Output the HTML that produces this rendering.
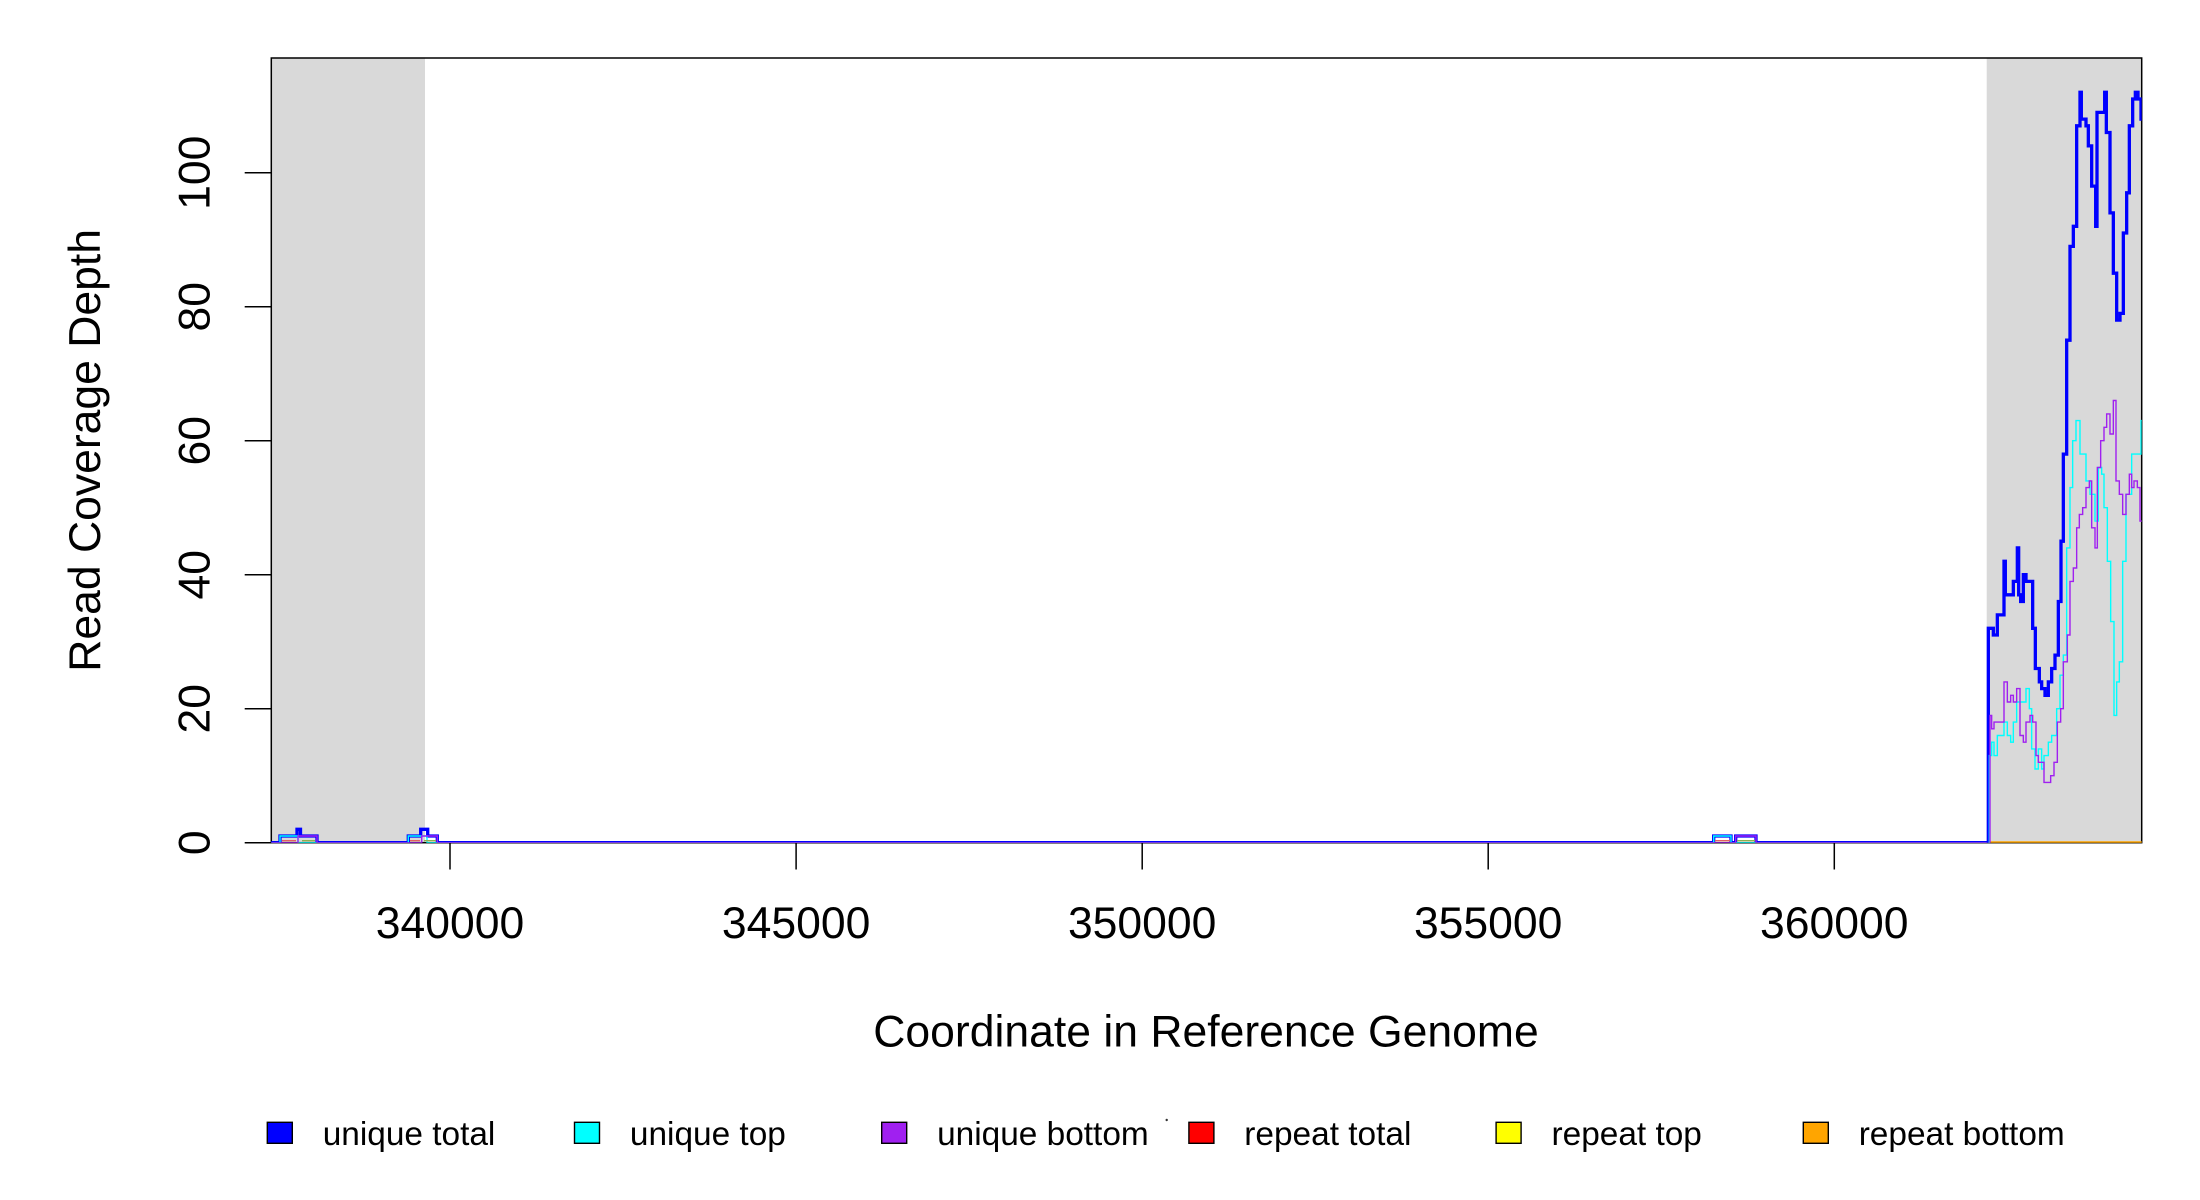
<!DOCTYPE html>
<html>
<head>
<meta charset="utf-8">
<style>
  html, body { margin: 0; padding: 0; background: #ffffff; }
  svg { display: block; }
  text { font-family: "Liberation Sans", Arial, sans-serif; fill: #000; }
</style>
</head>
<body>
<svg width="2200" height="1200" viewBox="0 0 2200 1200" xmlns="http://www.w3.org/2000/svg">
  <defs>
    <clipPath id="plotclip">
      <rect x="271.3" y="58" width="1870.4" height="784.7"/>
    </clipPath>
  </defs>
  <rect x="0" y="0" width="2200" height="1200" fill="#ffffff"/>

  <!-- shaded regions -->
  <rect x="271.3" y="58" width="153.7" height="784.7" fill="#d9d9d9"/>
  <rect x="1986.7" y="58" width="155" height="784.7" fill="#d9d9d9"/>

  <!-- plot box -->
  <rect x="271.3" y="58" width="1870.4" height="784.7" fill="none" stroke="#000" stroke-width="1.5"/>

  <!-- y ticks -->
  <g stroke="#000" stroke-width="1.5">
    <line x1="244.7" y1="842.7" x2="271.3" y2="842.7"/>
    <line x1="244.7" y1="708.7" x2="271.3" y2="708.7"/>
    <line x1="244.7" y1="574.7" x2="271.3" y2="574.7"/>
    <line x1="244.7" y1="440.7" x2="271.3" y2="440.7"/>
    <line x1="244.7" y1="306.7" x2="271.3" y2="306.7"/>
    <line x1="244.7" y1="172.7" x2="271.3" y2="172.7"/>
    <!-- x ticks -->
    <line x1="450" y1="842.7" x2="450" y2="869.5"/>
    <line x1="796.1" y1="842.7" x2="796.1" y2="869.5"/>
    <line x1="1142.2" y1="842.7" x2="1142.2" y2="869.5"/>
    <line x1="1488.2" y1="842.7" x2="1488.2" y2="869.5"/>
    <line x1="1834.3" y1="842.7" x2="1834.3" y2="869.5"/>
    <line x1="450" y1="842.7" x2="1834.3" y2="842.7"/>
  </g>

  <!-- y tick labels -->
  <g font-size="44.5" text-anchor="middle">
    <text x="209.5" y="842.7" transform="rotate(-90 209.5 842.7)">0</text>
    <text x="209.5" y="708.7" transform="rotate(-90 209.5 708.7)">20</text>
    <text x="209.5" y="574.7" transform="rotate(-90 209.5 574.7)">40</text>
    <text x="209.5" y="440.7" transform="rotate(-90 209.5 440.7)">60</text>
    <text x="209.5" y="306.7" transform="rotate(-90 209.5 306.7)">80</text>
    <text x="209.5" y="172.7" transform="rotate(-90 209.5 172.7)">100</text>
  </g>

  <!-- x tick labels -->
  <g font-size="44.5" text-anchor="middle">
    <text x="450" y="938">340000</text>
    <text x="796.1" y="938">345000</text>
    <text x="1142.2" y="938">350000</text>
    <text x="1488.2" y="938">355000</text>
    <text x="1834.3" y="938">360000</text>
  </g>

  <!-- axis titles -->
  <text x="1206" y="1046.7" font-size="44.5" text-anchor="middle">Coordinate in Reference Genome</text>
  <text x="100" y="450.4" font-size="44.5" text-anchor="middle" transform="rotate(-90 100 450.4)">Read Coverage Depth</text>

  <!-- data -->
  <g clip-path="url(#plotclip)" fill="none" stroke-linejoin="miter">
    <g transform="matrix(1 0 0 -6.7 0 842.7)">
      <path vector-effect="non-scaling-stroke" stroke="#0000ff" stroke-width="3.3"
        d="M271 0 H280 V1 H297 V2 H300.5 V1 H317 V0 H408.3 V1 H420.7 V2 H427.7 V1 H437.3 V0 H1713.7 V1 H1731 V0 H1735.7 V1 H1756 V0 H1988.3"/>
      <path vector-effect="non-scaling-stroke" stroke="#00ffff" stroke-width="1.4"
        d="M271 0 H280 V1 H298 V0 H408.3 V1 H427 V0 H1713.7 V1 H1731 V0 H1990"/>
      <path vector-effect="non-scaling-stroke" stroke="#a020f0" stroke-width="1.4"
        d="M271 0 H298 V1 H317 V0 H421.7 V1 H437.3 V0 H1735.7 V1 H1756 V0 H1990"/>
      <path vector-effect="non-scaling-stroke" stroke="#e06060" stroke-width="1.4" d="M282 0.3 H296 M410 0.3 H420 M1715 0.3 H1730"/>
      <path vector-effect="non-scaling-stroke" stroke="#8fae50" stroke-width="1.4" d="M302 0.3 H315 M424 0.3 H436 M1737 0.3 H1755"/>
      <path vector-effect="non-scaling-stroke" stroke="#ffa500" stroke-width="3" d="M1988 0 H2142"/>
    </g>
    <g transform="matrix(0.333333 0 0 -6.7 1980 842.7)">
      <path vector-effect="non-scaling-stroke" stroke="#0000ff" stroke-width="3.3"
        d="M25 0 V32 H40 V31 H52 V34 H72 V42 H76 V37 H100 V39 H112 V44 H116 V37 H122 V36 H130 V40 H138 V39 H158 V32 H166 V26 H178 V24 H185 V23 H195 V22 H205 V24 H215 V26 H225 V28 H235 V36 H243 V45 H250 V58 H260 V75 H270 V89 H280 V92 H290 V107 H300 V112 H304 V108 H318 V107 H325 V104 H335 V98 H347 V92 H351 V109 H374 V112 H379 V106 H390 V94 H400 V85 H410 V78 H420 V79 H430 V91 H440 V97 H448 V107 H458 V111 H466 V112 H474 V111 H483 V108 H490"/>
      <path vector-effect="non-scaling-stroke" stroke="#00ffff" stroke-width="1.4"
        d="M28 0 V13 H35 V15 H42 V13 H52 V16 H72 V18 H82 V16 H92 V15 H100 V18 H110 V21 H138 V23 H148 V20 H155 V14 H165 V11 H175 V14 H185 V11 H192 V13 H205 V15 H215 V16 H230 V20 H240 V25 H250 V28 H260 V44 H270 V53 H278 V60 H288 V63 H300 V58 H318 V54 H330 V52 H345 V48 H355 V56 H365 V55 H372 V50 H382 V42 H392 V33 H402 V19 H410 V24 H418 V27 H428 V42 H438 V52 H455 V58 H483 V63 H490"/>
      <path vector-effect="non-scaling-stroke" stroke="#a020f0" stroke-width="1.4"
        d="M30 0 V19 H35 V17 H42 V18 H72 V24 H82 V21 H92 V22 H100 V21 H110 V23 H120 V16 H130 V15 H138 V18 H150 V19 H158 V18 H168 V13 H175 V12 H192 V9 H212 V10 H222 V12 H232 V18 H242 V20 H250 V27 H262 V31 H270 V39 H280 V41 H290 V47 H298 V49 H308 V50 H318 V53 H328 V54 H335 V47 H345 V44 H352 V56 H362 V60 H372 V62 H380 V64 H390 V61 H400 V66 H408 V54 H418 V52 H428 V49 H438 V52 H448 V55 H455 V53 H462 V54 H472 V53 H480 V48 H490"/>
    </g>
  </g>

  <!-- legend -->
  <g stroke="#000" stroke-width="1.4">
    <rect x="267.3" y="1122.3" width="25" height="21" fill="#0000ff"/>
    <rect x="574.5" y="1122.3" width="25" height="21" fill="#00ffff"/>
    <rect x="881.7" y="1122.3" width="25" height="21" fill="#a020f0"/>
    <rect x="1188.9" y="1122.3" width="25" height="21" fill="#ff0000"/>
    <rect x="1496.1" y="1122.3" width="25" height="21" fill="#ffff00"/>
    <rect x="1803.3" y="1122.3" width="25" height="21" fill="#ffa500"/>
  </g>
  <g font-size="33.4">
    <text x="322.7" y="1145">unique total</text>
    <text x="629.9" y="1145">unique top</text>
    <text x="937.1" y="1145">unique bottom</text>
    <text x="1244.3" y="1145">repeat total</text>
    <text x="1551.5" y="1145">repeat top</text>
    <text x="1858.7" y="1145">repeat bottom</text>
  </g>
  <circle cx="1166.7" cy="1120" r="1.2" fill="#333"/>
</svg>
</body>
</html>
